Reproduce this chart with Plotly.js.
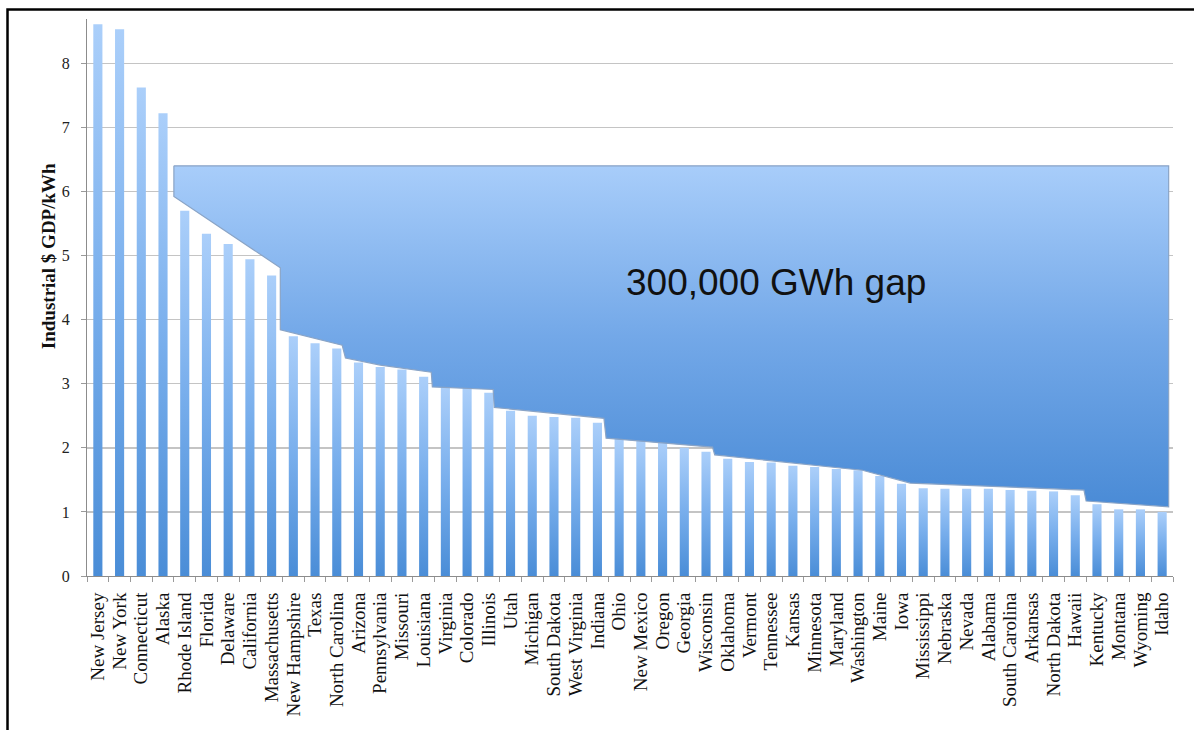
<!DOCTYPE html>
<html>
<head>
<meta charset="utf-8">
<script src="https://cdn.plot.ly/plotly-3.0.1.min.js"></script>
<style>
  html, body { margin: 0; padding: 0; background: #fff; }
  #chart { width: 1194px; height: 730px; }
</style>
</head>
<body>
<div id="chart"></div>
<script>
// States ranked by industrial GDP per kWh of electricity
const states = [
  "New Jersey", "New York", "Connecticut", "Alaska", "Rhode Island", "Florida",
  "Delaware", "California", "Massachusetts", "New Hampshire", "Texas",
  "North Carolina", "Arizona", "Pennsylvania", "Missouri", "Louisiana",
  "Virginia", "Colorado", "Illinois", "Utah", "Michigan", "South Dakota",
  "West Virginia", "Indiana", "Ohio", "New Mexico", "Oregon", "Georgia",
  "Wisconsin", "Oklahoma", "Vermont", "Tennessee", "Kansas", "Minnesota",
  "Maryland", "Washington", "Maine", "Iowa", "Mississippi", "Nebraska",
  "Nevada", "Alabama", "South Carolina", "Arkansas", "North Dakota", "Hawaii",
  "Kentucky", "Montana", "Wyoming", "Idaho"
];

// Industrial $ GDP per kWh
const gdpPerKwh = [
  8.61, 8.53, 7.62, 7.22, 5.70, 5.34,
  5.18, 4.94, 4.69, 3.74, 3.63,
  3.55, 3.33, 3.26, 3.22, 3.11,
  2.95, 2.94, 2.86, 2.58, 2.50, 2.48,
  2.47, 2.39, 2.15, 2.12, 2.09, 2.00,
  1.94, 1.83, 1.78, 1.77, 1.72, 1.70,
  1.67, 1.65, 1.56, 1.44, 1.37, 1.36,
  1.36, 1.36, 1.34, 1.33, 1.32, 1.26,
  1.12, 1.04, 1.04, 1.00
];

// Outline of the shaded "gap" region (x in category-index units)
const gapX = [3.5, 49.3, 49.3, 45.5, 45.4, 37.4, 35.2, 28.4, 28.3, 23.4, 23.3,
              18.25, 18.2, 15.4, 15.35, 13.0, 11.4, 11.25, 8.4, 8.4, 3.5, 3.5];
const gapY = [6.40, 6.40, 1.08, 1.17, 1.34, 1.45, 1.65, 1.89, 2.01, 2.15, 2.46,
              2.63, 2.91, 2.95, 3.18, 3.29, 3.40, 3.60, 3.84, 4.81, 5.92, 6.40];

const gapLabel = "300,000 GWh gap";
const yTitle = "Industrial $ GDP/kWh";

const serif = "'Liberation Serif', 'Times New Roman', Times, serif";
const sans = "'Liberation Sans', Arial, Helvetica, sans-serif";

const bars = {
  type: "bar",
  x: states,
  y: gdpPerKwh,
  marker: { color: "#78acea", line: { width: 0 } },
  hoverinfo: "x+y",
  showlegend: false
};

const gap = {
  type: "scatter",
  mode: "lines",
  x: gapX,
  y: gapY,
  xaxis: "x2",
  yaxis: "y",
  fill: "toself",
  fillcolor: "#7aaeea",
  fillgradient: {
    type: "vertical",
    colorscale: [[0, "#4a8bd6"], [0.5, "#73a8e8"], [1, "#a8cdfa"]]
  },
  line: { color: "#8aa4c6", width: 1.2 },
  hoverinfo: "skip",
  showlegend: false
};

const layout = {
  width: 1194,
  height: 730,
  margin: { l: 87, r: 21, t: 19, b: 154 },
  paper_bgcolor: "#ffffff",
  plot_bgcolor: "#ffffff",
  bargap: 0.58,
  showlegend: false,
  xaxis: {
    type: "category",
    range: [-0.5, 49.5],
    tickmode: "linear",
    tick0: 0,
    dtick: 1,
    showline: true,
    linecolor: "#8c8c8c",
    linewidth: 1,
    ticks: "outside",
    tickson: "boundaries",
    ticklen: 5,
    tickcolor: "#9a9a9a",
    tickangle: -90,
    ticklabelstandoff: 8,
    tickfont: { family: serif, size: 19, color: "#111" },
    showgrid: false,
    zeroline: false,
    fixedrange: true
  },
  xaxis2: {
    overlaying: "x",
    range: [-0.5, 49.5],
    visible: false,
    showgrid: false,
    zeroline: false,
    fixedrange: true
  },
  yaxis: {
    range: [0, 8.69],
    dtick: 1,
    tick0: 0,
    showline: true,
    linecolor: "#8c8c8c",
    linewidth: 1,
    ticks: "outside",
    ticklen: 5,
    tickcolor: "#9a9a9a",
    tickfont: { family: serif, size: 16, color: "#222" },
    ticklabelstandoff: 8,
    showgrid: true,
    gridcolor: "#c4c4c4",
    gridwidth: 1.4,
    zeroline: false,
    fixedrange: true
  },
  annotations: [
    {
      text: "<b>" + yTitle + "</b>",
      xref: "paper", yref: "paper",
      x: -0.036, y: 0.574,
      xanchor: "center", yanchor: "middle",
      textangle: -90,
      showarrow: false,
      font: { family: serif, size: 19, color: "#111" }
    },
    {
      text: gapLabel,
      xref: "x2", yref: "y",
      x: 31.2, y: 4.58,
      xanchor: "center", yanchor: "middle",
      showarrow: false,
      font: { family: sans, size: 37, color: "#111" }
    }
  ],
  shapes: [
    {
      // outer frame on the left and top edges
      type: "path",
      xref: "paper", yref: "paper",
      path: "M -0.0732,-0.28 L -0.0732,1.0172 L 1.03,1.0172",
      line: { color: "#000", width: 2.5 }
    }
  ]
};

Plotly.newPlot("chart", [bars, gap], layout, { displayModeBar: false, staticPlot: true })
  .then(function (gd) {
    // vertical light-to-dark shading on every bar
    const NS = "http://www.w3.org/2000/svg";
    const svg = gd.querySelector("svg.main-svg");
    let defs = svg.querySelector("defs");
    if (!defs) { defs = document.createElementNS(NS, "defs"); svg.insertBefore(defs, svg.firstChild); }
    const grad = document.createElementNS(NS, "linearGradient");
    grad.setAttribute("id", "barShade");
    grad.setAttribute("x1", "0"); grad.setAttribute("y1", "0");
    grad.setAttribute("x2", "0"); grad.setAttribute("y2", "1");
    [["0", "#abcffa"], ["0.5", "#78aeec"], ["1", "#4a8dd7"]].forEach(function (s) {
      const st = document.createElementNS(NS, "stop");
      st.setAttribute("offset", s[0]);
      st.setAttribute("stop-color", s[1]);
      grad.appendChild(st);
    });
    defs.appendChild(grad);
    gd.querySelectorAll(".barlayer .point path").forEach(function (p) {
      p.style.fill = "url(#barShade)";
    });
  });
</script>
</body>
</html>
